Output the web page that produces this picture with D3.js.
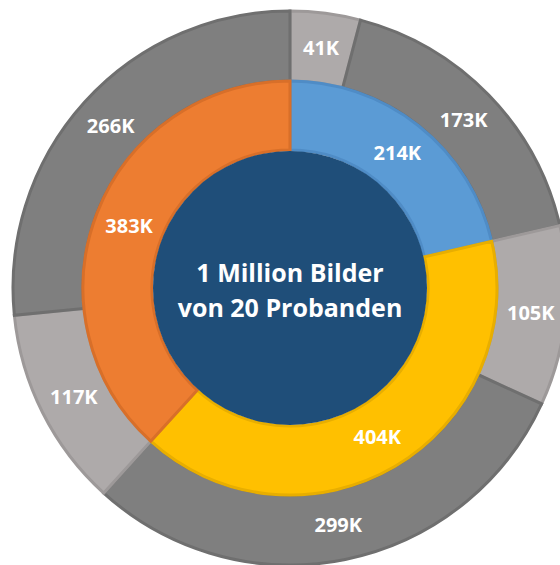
<!DOCTYPE html>
<html>
<head>
<meta charset="utf-8">
<script src="https://cdn.jsdelivr.net/npm/d3@7"></script>
<style>
  html, body { margin: 0; padding: 0; background: #fff; }
  svg { display: block; }
  text { font-family: "Open Sans", sans-serif; font-weight: 700; fill: #fff; }
</style>
</head>
<body>
<svg id="chart" width="560" height="565"></svg>
<script>
// Inner ring: image groups (thousands)
const innerLabels = ["214K", "404K", "383K"];
const innerValues = [214, 404, 383];
const innerColors = ["#5b9bd5", "#ffc000", "#ed7d31"];
const innerStrokes = ["#4f8cc6", "#e8ae00", "#d86f29"];

// Outer ring: split of each group (thousands)
const outerLabels = ["41K", "173K", "105K", "299K", "117K", "266K"];
const outerValues = [41, 173, 105, 299, 117, 266];
const outerColors = ["#aeaaaa", "#7f7f7f", "#aeaaaa", "#7f7f7f", "#aeaaaa", "#7f7f7f"];
const outerStrokes = ["#9d9999", "#6f6f6f", "#9d9999", "#6f6f6f", "#9d9999", "#6f6f6f"];

const centerLines = ["1 Million Bilder", "von 20 Probanden"];

const svg = d3.select("#chart");
const cx = 290, cy = 288;
const g = svg.append("g").attr("transform", `translate(${cx},${cy})`);

const pie = d3.pie().sort(null).value(d => d);

const rCenter = 138, rInnerOut = 207, rOuterOut = 277;

const arcInner = d3.arc().innerRadius(rCenter).outerRadius(rInnerOut);
const arcOuter = d3.arc().innerRadius(rInnerOut).outerRadius(rOuterOut);

// outer ring
const outerArcs = pie(outerValues);
g.selectAll("path.outer").data(outerArcs).enter().append("path")
  .attr("class", "outer")
  .attr("d", arcOuter)
  .attr("fill", (d, i) => outerColors[i])
  .attr("stroke", (d, i) => outerStrokes[i])
  .attr("stroke-width", 3)
  .attr("stroke-linejoin", "miter");

// inner ring
const innerArcs = pie(innerValues);
g.selectAll("path.inner").data(innerArcs).enter().append("path")
  .attr("class", "inner")
  .attr("d", arcInner)
  .attr("fill", (d, i) => innerColors[i])
  .attr("stroke", (d, i) => innerStrokes[i])
  .attr("stroke-width", 3);

// centre disc
g.append("circle").attr("r", rCenter - 1).attr("fill", "#1f4e79");

// value labels
g.selectAll("text.outerLbl").data(outerArcs).enter().append("text")
  .attr("class", "outerLbl")
  .attr("transform", d => `translate(${arcOuter.centroid(d)})`)
  .attr("text-anchor", "middle")
  .attr("dy", "0.36em")
  .attr("font-size", 20)
  .text((d, i) => outerLabels[i]);

g.selectAll("text.innerLbl").data(innerArcs).enter().append("text")
  .attr("class", "innerLbl")
  .attr("transform", d => `translate(${arcInner.centroid(d)})`)
  .attr("text-anchor", "middle")
  .attr("dy", "0.36em")
  .attr("font-size", 20)
  .text((d, i) => innerLabels[i]);

// centre caption
g.selectAll("text.center").data(centerLines).enter().append("text")
  .attr("class", "center")
  .attr("text-anchor", "middle")
  .attr("y", (d, i) => -6 + i * 35)
  .attr("font-size", 25)
  .text(d => d);
</script>
</body>
</html>
